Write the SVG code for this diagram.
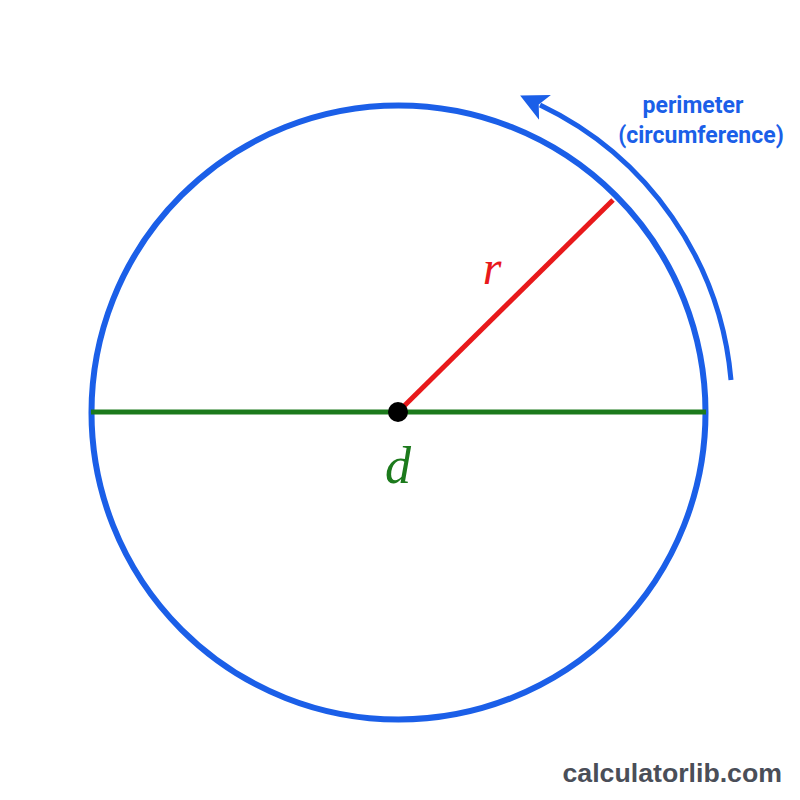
<svg xmlns="http://www.w3.org/2000/svg" width="800" height="800" viewBox="0 0 800 800">
<style>
.lbl{font-family:"Roboto","Liberation Sans",sans-serif;font-weight:bold;fill:#1b5fe8}
.var{font-family:"Liberation Serif",serif;font-style:italic}
</style>
<defs>
<marker id="ah" viewBox="0 0 10 10" refX="2" refY="5" markerWidth="5.5" markerHeight="5.5" orient="auto" markerUnits="strokeWidth">
<path d="M0,0 L10,5 L0,10 L2.5,5 Z" fill="#1b5fe8"/>
</marker>
</defs>
<rect width="800" height="800" fill="#ffffff"/>
<g id="circle">
<circle cx="398.5" cy="412.5" r="307" fill="none" stroke="#1b5fe8" stroke-width="6"/>
</g>
<g id="connectors">
<line id="diameter" x1="91" y1="412" x2="706" y2="412" stroke="#1c7a1c" stroke-width="5"/>
<line id="radius" x1="398" y1="412" x2="613" y2="200" stroke="#e8191b" stroke-width="5"/>
<path id="perimeter-arrow" d="M731,380 A337,337 0 0 0 540,105" fill="none" stroke="#1b5fe8" stroke-width="5" marker-end="url(#ah)"/>
</g>
<g id="center">
<circle cx="398" cy="412" r="10" fill="#000"/>
</g>
<g id="labels">
<text class="var" x="492" y="284" font-size="48" fill="#e8191b" text-anchor="middle">r</text>
<text class="var" x="398" y="483" font-size="52" fill="#1c7a1c" text-anchor="middle">d</text>
<text class="lbl" x="693" y="113" font-size="23" text-anchor="middle">perimeter</text>
<text class="lbl" x="701" y="143" font-size="23" text-anchor="middle">(circumference)</text>
<text x="782" y="782" font-family="'Liberation Sans',Arial,sans-serif" font-weight="bold" font-size="26.7" fill="#4a4e58" text-anchor="end">calculatorlib.com</text>
</g>
</svg>
